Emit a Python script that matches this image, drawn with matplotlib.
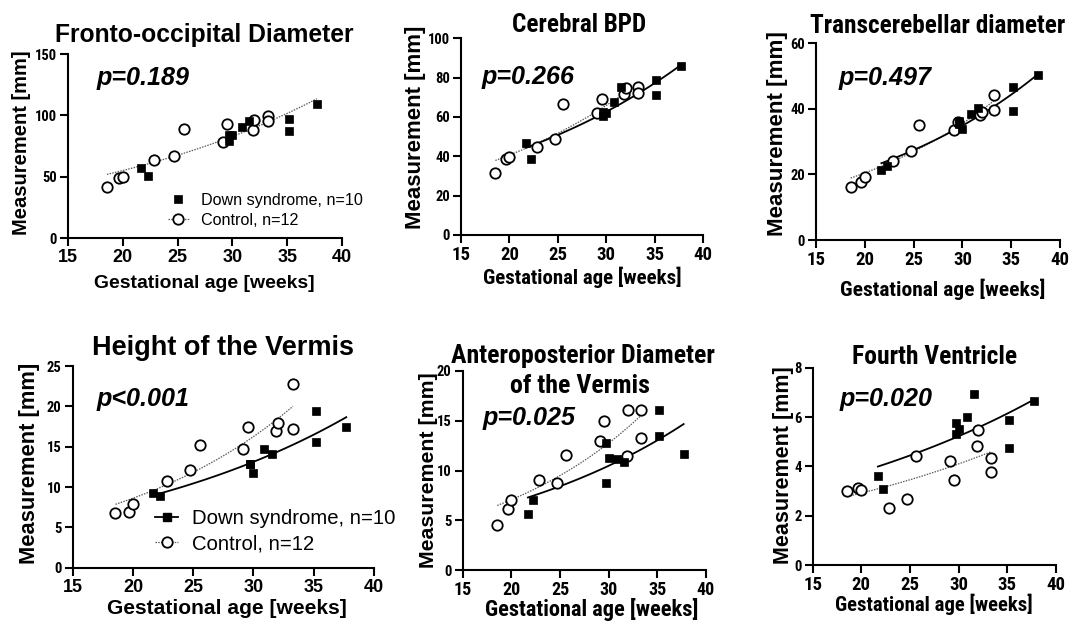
import numpy as np
import matplotlib
matplotlib.use("Agg")
import matplotlib.pyplot as plt
from matplotlib import font_manager
from matplotlib.font_manager import FontProperties
from matplotlib.lines import Line2D

W, H = 1072, 632

# ---------------- data ----------------
control_age = [18.55, 19.65, 20.0, 22.85, 24.7, 25.58, 29.1, 29.55, 31.85, 32.0, 33.27, 33.27]
down_age = [21.7, 22.27, 29.7, 29.7, 30.0, 30.85, 31.55, 35.15, 35.15, 37.7]

fod_control = [41.8, 49.1, 49.5, 63.6, 67.1, 88.6, 78.5, 92.9, 88.0, 96.2, 99.5, 95.4]
fod_down = [56.8, 50.5, 79.3, 84.0, 83.7, 90.2, 95.6, 97.0, 87.5, 109.0]

bpd_control = [31.7, 38.8, 39.8, 44.7, 48.6, 66.4, 62.2, 69.2, 71.7, 74.6, 75.1, 72.0]
bpd_down = [46.6, 38.8, 60.7, 62.4, 62.2, 67.8, 75.1, 78.8, 71.0, 85.9]

tcd_control = [16.1, 17.8, 19.3, 24.1, 27.1, 35.0, 33.5, 36.0, 38.0, 39.1, 44.1, 39.8]
tcd_down = [21.3, 22.7, 36.3, 35.5, 33.9, 38.3, 40.2, 46.6, 39.5, 50.2]

hv_control = [6.74, 6.94, 7.86, 10.78, 12.11, 15.17, 14.71, 17.48, 16.98, 17.9, 22.77, 17.19]
hv_down = [9.22, 8.89, 12.81, 12.9, 11.7, 14.71, 14.05, 19.46, 15.54, 17.48]

apv_control = [4.49, 6.10, 7.0, 9.01, 8.71, 11.59, 12.96, 14.94, 11.42, 16.08, 16.08, 13.3]
apv_down = [5.59, 7.07, 12.8, 8.71, 11.29, 11.19, 10.89, 16.05, 13.43, 11.66]

fv_control = [3.02, 3.14, 3.06, 2.31, 2.68, 4.41, 4.21, 3.47, 4.83, 5.48, 4.36, 3.79]
fv_down = [3.63, 3.08, 5.75, 5.30, 5.52, 6.02, 6.93, 5.88, 4.76, 6.64]

titles = ["Fronto-occipital Diameter", "Cerebral BPD", "Transcerebellar diameter",
          "Height of the Vermis", "Anteroposterior Diameter\nof the Vermis", "Fourth Ventricle"]
p_labels = ["p=0.189", "p=0.266", "p=0.497", "p<0.001", "p=0.025", "p=0.020"]
y_ticks = [[0, 50, 100, 150], [0, 20, 40, 60, 80, 100], [0, 20, 40, 60],
           [0, 5, 10, 15, 20, 25], [0, 5, 10, 15, 20], [0, 2, 4, 6, 8]]
x_ticks = [15, 20, 25, 30, 35, 40]
legend_labels = ["Down syndrome, n=10", "Control, n=12"]
x_label = "Gestational age [weeks]"
y_label = "Measurement [mm]"

controls = [fod_control, bpd_control, tcd_control, hv_control, apv_control, fv_control]
downs = [fod_down, bpd_down, tcd_down, hv_down, apv_down, fv_down]

# ---------------- fonts ----------------
def has_font(name):
    try:
        font_manager.findfont(FontProperties(family=name), fallback_to_default=False)
        return True
    except Exception:
        return False


def first_font(cands, default):
    for c in cands:
        if has_font(c):
            return c
    return default


NORMAL = first_font(["Liberation Sans", "Arimo"], "DejaVu Sans")
NARROW = first_font(["Liberation Sans Narrow", "Arial Narrow", "Roboto Condensed",
                     "Archivo Narrow", "Asap Condensed", "Barlow Semi Condensed"], NORMAL)

# ---------------- layout (pixels) ----------------
# title: (center x, baseline y, target width); yl: (center x, center y, target length)
# xl: (center x, baseline y, target width); p: (left x, baseline y)
layout = [
    dict(box=(68, 54, 342, 238), narrow=False, title=(204, 42, 298), yl=(22, 142.5, 185),
         xl=(204, 288, 222), p=(97, 85), xts=13, yts=10.5),
    dict(box=(461, 38.3, 703, 235), narrow=True, title=(579, 32, 134), yl=(416, 127.5, 205),
         xl=(582.5, 284, 199), p=(482, 84), xts=13.5, yts=10.5),
    dict(box=(816, 43.3, 1060, 240), narrow=True, title=(938, 33, 256), yl=(778, 134, 206),
         xl=(942.5, 296, 205), p=(839, 85), xts=13.5, yts=10.5),
    dict(box=(72.7, 366, 374, 567.7), narrow=False, title=(223.5, 355, 263), yl=(30, 463.5, 201),
         xl=(227, 614, 240), p=(97, 406), xts=13, yts=10.5),
    dict(box=(462.7, 371, 706, 570), narrow=True, title=(583, 363, 264), yl=(428, 470.5, 195),
         xl=(591.5, 616, 213), p=(483, 425), xts=13, yts=10.5),
    dict(box=(812.7, 367.7, 1056, 565.3), narrow=True, title=(934.5, 364, 165), yl=(783, 465, 198),
         xl=(934, 611, 198), p=(840, 406), xts=13.5, yts=10.5),
]

fig = plt.figure(figsize=(W / 100, H / 100), dpi=100)
fig.patch.set_facecolor("white")
renderer = fig.canvas.get_renderer()


def fx(x):
    return x / W


def fy(y):
    return 1 - y / H


def fit_size(t, target, vertical=False):
    bb = t.get_window_extent(renderer=renderer)
    cur = bb.height if vertical else bb.width
    if cur > 0:
        t.set_fontsize(t.get_fontsize() * target / cur)


def exp_fit(x, y):
    """Least-squares exponential growth fit y = A*exp(b*x) (grid over b, closed-form A)."""
    x = np.asarray(x, float)
    y = np.asarray(y, float)
    best = None
    for bb in np.linspace(-0.05, 0.2, 2501):
        e = np.exp(bb * (x - 15))
        A = np.sum(y * e) / np.sum(e * e)
        sse = np.sum((y - A * e) ** 2)
        if best is None or sse < best[0]:
            best = (sse, A, bb)
    _, A, bb = best
    xs = np.linspace(x.min(), x.max(), 120)
    return xs, A * np.exp(bb * (xs - 15))


CTRL_LINE = dict(color="#5a5a5a", lw=0.9, ls=(0, (1.2, 1.0)))
DOWN_LINE = dict(color="black", lw=1.3, ls="-")
CIRC = dict(marker="o", ms=7.5, mfc="white", mec="black", mew=1.3, ls="none")
SQR = dict(marker="s", ms=6.3, mfc="black", mec="black", mew=0.5, ls="none")

for i, L in enumerate(layout):
    l, t, r, b = L["box"]
    ax = fig.add_axes([fx(l), fy(b), (r - l) / W, (b - t) / H])
    yt = y_ticks[i]
    ax.set_xlim(15, 40)
    ax.set_ylim(yt[0], yt[-1])
    ax.set_xticks(x_ticks)
    ax.set_yticks(yt)
    for s in ["top", "right"]:
        ax.spines[s].set_visible(False)
    for s in ["left", "bottom"]:
        ax.spines[s].set_linewidth(1.5)
    ax.tick_params(axis="both", direction="out", length=6, width=1.5, pad=2)
    tfam = NARROW if L["narrow"] else NORMAL
    ax.set_xticklabels([str(v) for v in x_ticks], fontfamily=tfam, fontweight="bold", fontsize=L["xts"])
    ax.set_yticklabels([str(v) for v in yt], fontfamily=NARROW, fontweight="bold", fontsize=L["yts"])

    # fit lines
    if i == 0:
        xs, ys = exp_fit(control_age + down_age, controls[i] + downs[i])
        ax.plot(xs, ys, **CTRL_LINE, zorder=2)
    else:
        xs, ys = exp_fit(control_age, controls[i])
        ax.plot(xs, ys, **CTRL_LINE, zorder=2)
        xs, ys = exp_fit(down_age, downs[i])
        ax.plot(xs, ys, **DOWN_LINE, zorder=2)

    ax.plot(control_age, controls[i], **CIRC, zorder=3, clip_on=False)
    ax.plot(down_age, downs[i], **SQR, zorder=4, clip_on=False)

    # texts
    tx, ty, tw = L["title"]
    if "\n" in titles[i]:
        line1, line2 = titles[i].split("\n")
        t1 = fig.text(fx(tx), fy(ty), line1, ha="center", va="baseline", fontsize=18,
                      fontweight="bold", fontfamily=tfam)
        fit_size(t1, tw)
        fig.text(fx(tx - 3), fy(ty + 30), line2, ha="center", va="baseline",
                 fontsize=t1.get_fontsize(), fontweight="bold", fontfamily=tfam)
    else:
        t1 = fig.text(fx(tx), fy(ty), titles[i], ha="center", va="baseline", fontsize=18,
                      fontweight="bold", fontfamily=tfam)
        fit_size(t1, tw)

    yx, yy, yln = L["yl"]
    ty_ = fig.text(fx(yx), fy(yy), y_label, rotation=90, ha="center", va="center", fontsize=15,
                   fontweight="bold", fontfamily=NORMAL)
    fit_size(ty_, yln, vertical=True)
    xx, xy, xw = L["xl"]
    tx_ = fig.text(fx(xx), fy(xy), x_label, ha="center", va="baseline", fontsize=15,
                   fontweight="bold", fontfamily=tfam)
    fit_size(tx_, xw)
    px, py = L["p"]
    tp = fig.text(fx(px), fy(py), p_labels[i], ha="left", va="baseline", fontsize=17.5,
                  fontweight="bold", fontstyle="italic", fontfamily=NORMAL)
    fit_size(tp, 93)

    # legends
    if i == 0:
        handles = [Line2D([], [], **SQR),
                   Line2D([], [], marker="o", ms=7.5, mfc="white", mec="black", mew=1.3, **CTRL_LINE)]
        ax.legend(handles, legend_labels, loc="center left", bbox_to_anchor=(fx(168), fy(210.5)),
                  bbox_transform=fig.transFigure, frameon=False, borderpad=0, borderaxespad=0,
                  handlelength=1.3, handletextpad=0.75, labelspacing=0.3, numpoints=1,
                  prop=FontProperties(family=NORMAL, size=11.6))
    if i == 3:
        handles = [Line2D([], [], marker="s", ms=6.3, mfc="black", mec="black", **DOWN_LINE),
                   Line2D([], [], marker="o", ms=7.5, mfc="white", mec="black", mew=1.3, **CTRL_LINE)]
        ax.legend(handles, legend_labels, loc="center left", bbox_to_anchor=(fx(155), fy(531)),
                  bbox_transform=fig.transFigure, frameon=False, borderpad=0, borderaxespad=0,
                  handlelength=1.15, handletextpad=0.65, labelspacing=0.33, numpoints=1,
                  prop=FontProperties(family=NORMAL, size=14.6))

fig.savefig("out.png", dpi=100, facecolor="white")
